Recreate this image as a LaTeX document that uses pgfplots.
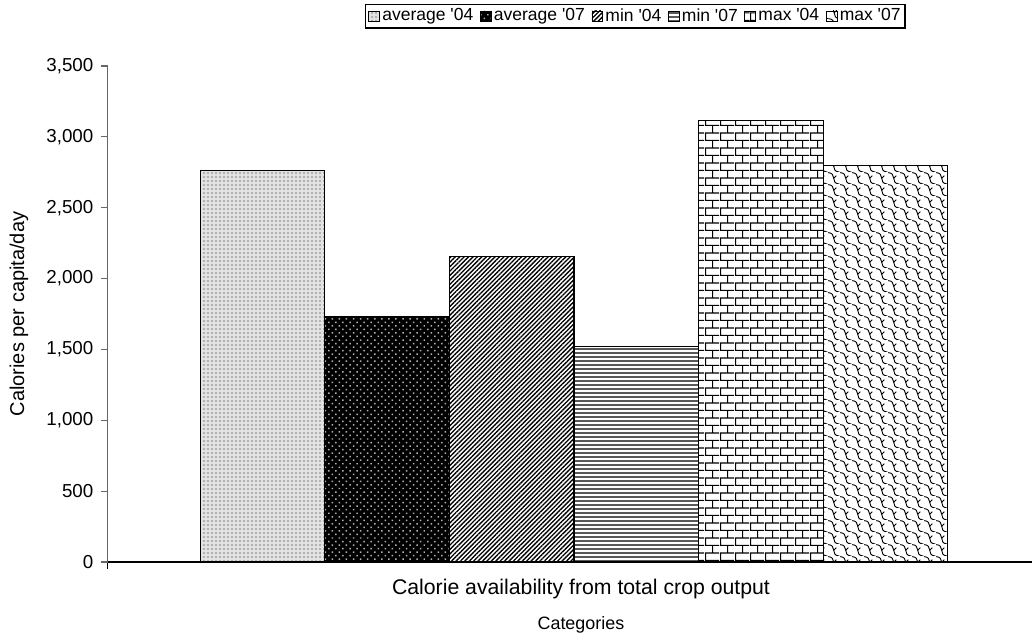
\documentclass[border=0pt]{standalone}
\usepackage{fontspec}
\setmainfont{Liberation Sans}
\usepackage{pgfplots}
\pgfplotsset{compat=1.18}
\usetikzlibrary{patterns.meta}

% brick pattern for max '04
\tikzdeclarepattern{
  name=mybricks,
  type=uncolored,
  bottom left={(0pt,0pt)},
  top right={(7.2pt,7.4pt)},
  tile size={(7.2pt,7.4pt)},
  code={
    \draw[line width=0.55pt] (0pt,0.3pt) -- (7.2pt,0.3pt)
      (0pt,4pt) -- (7.2pt,4pt)
      (0.3pt,0.3pt) -- (0.3pt,4pt)
      (3.9pt,4pt) -- (3.9pt,7.4pt);
  }
}
% shingle pattern for max '07
\tikzdeclarepattern{
  name=myshingle,
  type=uncolored,
  bottom left={(0pt,0pt)},
  top right={(5.6pt,5.6pt)},
  tile size={(5.6pt,5.6pt)},
  code={
    \draw[line width=0.45pt] (0pt,5.6pt) .. controls (2.1pt,5.6pt) and (2.8pt,4.2pt) .. (2.8pt,2.8pt)
      .. controls (2.8pt,1.4pt) and (3.5pt,0pt) .. (5.6pt,0pt);
    \draw[line width=0.45pt] (2.8pt,2.8pt) -- (4.1pt,4.1pt);
  }
}

\pgfplotsset{
  lg/.style={legend image code/.code={
    \draw[##1, draw=black, line width=0.4pt] (0pt,-2.6pt) rectangle (5.2pt,2.6pt);}},
}

\begin{document}
\begin{tikzpicture}
\useasboundingbox (0,0) rectangle (495.84pt,305.76pt);
\begin{axis}[
  at={(51.7pt,36pt)}, anchor=south west,
  scale only axis, width=443.66pt, height=238.08pt,
  ybar=0pt, bar width=59.81pt,
  xmin=-1, xmax=0.9822, ymin=0, ymax=3500,
  axis lines*=left,
  x axis line style={draw=black, line width=0.6pt},
  y axis line style={draw=gray!80!black, line width=0.6pt},
  ytick={0,500,...,3500},
  ytick style={draw=gray!80!black, line width=0.6pt},
  tick align=outside,
  major tick length=3.36pt,
  xtick={-1}, xticklabels={},
  xtick style={draw=black, line width=0.6pt},
  extra x ticks={0.015},
  extra x tick labels={Calorie availability from total crop output},
  extra x tick style={major tick length=0pt, xticklabel style={yshift=-4.5pt, font=\fontsize{10.2}{12}\selectfont}},
  /pgf/number format/1000 sep={,},
  /pgf/number format/assume math mode=true,
  tick label style={font=\fontsize{9}{11}\selectfont, text=black},
  xlabel={Categories},
  xlabel style={at={(axis description cs:0.512,-0.127)}, anchor=center, font=\fontsize{8.6}{10}\selectfont},
  ylabel={Calories per capita/day},
  ylabel style={at={(axis description cs:-0.096,0.5)}, anchor=center, font=\fontsize{9.6}{11}\selectfont},
  legend style={at={(axis description cs:0.5706,1.1)}, anchor=center,
    legend columns=6, draw=black, line width=0.6pt, font=\fontsize{8.4}{9.5}\selectfont,
    inner xsep=1.5pt, inner ysep=1pt,
    nodes={inner xsep=0.6pt, inner ysep=0.8pt},
    /tikz/every odd column/.append style={column sep=0.5pt},
    /tikz/every even column/.append style={column sep=2.6pt}},
  legend cell align=left,
]
\addplot[lg, draw=black, line width=0.6pt, fill=gray!22,
  postaction={pattern={Dots[distance=1.92pt, radius=0.5pt]}, pattern color=gray!75}]
  coordinates {(0,2760)};
\addlegendentry{average \textquotesingle04}
\addplot[lg, draw=black, line width=0.6pt, fill=black,
  postaction={pattern={Dots[distance=2.4pt, radius=0.5pt, angle=45]}, pattern color=gray!60}]
  coordinates {(0,1730)};
\addlegendentry{average \textquotesingle07}
\addplot[lg, draw=black, line width=0.6pt, fill=white,
  postaction={pattern={Lines[distance=1.5pt, angle=45, line width=0.65pt]}, pattern color=black}]
  coordinates {(0,2155)};
\addlegendentry{min \textquotesingle04}
\addplot[lg, draw=black, line width=0.6pt, fill=white,
  postaction={pattern={Lines[distance=1.92pt, angle=0, line width=0.75pt]}, pattern color=gray!70!black}]
  coordinates {(0,1520)};
\addlegendentry{min \textquotesingle07}
\addplot[lg, draw=black, line width=0.6pt, fill=white,
  postaction={pattern=mybricks, pattern color=black}]
  coordinates {(0,3118)};
\addlegendentry{max \textquotesingle04}
\addplot[lg, draw=black, line width=0.6pt, fill=white,
  postaction={pattern=myshingle, pattern color=black}]
  coordinates {(0,2800)};
\addlegendentry{max \textquotesingle07}
\end{axis}
\end{tikzpicture}
\end{document}
